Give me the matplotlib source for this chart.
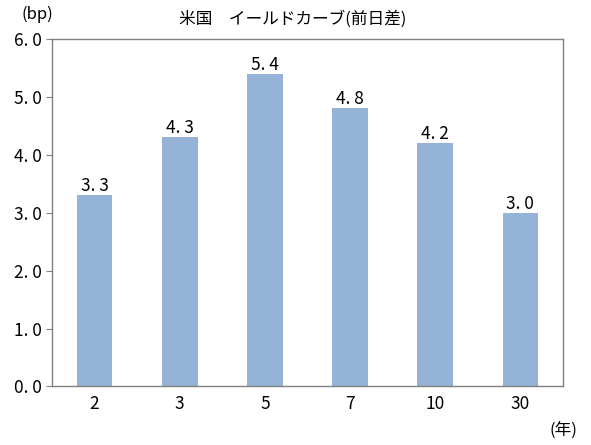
import matplotlib
matplotlib.use("Agg")
import matplotlib.pyplot as plt

plt.rcParams["font.family"] = ["Noto Sans CJK JP", "DejaVu Sans"]

maturities = ["2", "3", "5", "7", "10", "30"]
changes = [3.3, 4.3, 5.4, 4.8, 4.2, 3.0]
y_ticks = [0.0, 1.0, 2.0, 3.0, 4.0, 5.0, 6.0]

fig = plt.figure(figsize=(5.91, 4.45), dpi=100)
ax = fig.add_axes([0.088, 0.1315, 0.8646, 0.781])

x = range(len(maturities))
ax.bar(x, changes, width=0.42, color="#95b3d7")

for xi, v in zip(x, changes):
    ax.text(xi, v, f"{v:.1f}".replace(".", ". "), ha="center", va="bottom",
            fontsize=12.5, color="black")

ax.set_xlim(-0.5, len(maturities) - 0.5)
ax.set_ylim(0, 6.0)
ax.set_yticks(y_ticks)
ax.set_yticklabels([f"{t:.1f}".replace(".", ". ") for t in y_ticks], fontsize=12.5)
ax.set_xticks(list(x))
ax.set_xticklabels(maturities, fontsize=12.5)
ax.tick_params(axis="x", length=0, pad=6)
ax.tick_params(axis="y", length=4, color="#808080", pad=3)

for s in ax.spines.values():
    s.set_color("#808080")
    s.set_linewidth(1.0)

fig.text(0.495, 0.957, "米国　イールドカーブ(前日差)", ha="center", va="center", fontsize=12)
fig.text(0.063, 0.968, "(bp)", ha="center", va="center", fontsize=12)
fig.text(0.954, 0.033, "(年)", ha="center", va="center", fontsize=12)

fig.savefig("out.png", dpi=100)
